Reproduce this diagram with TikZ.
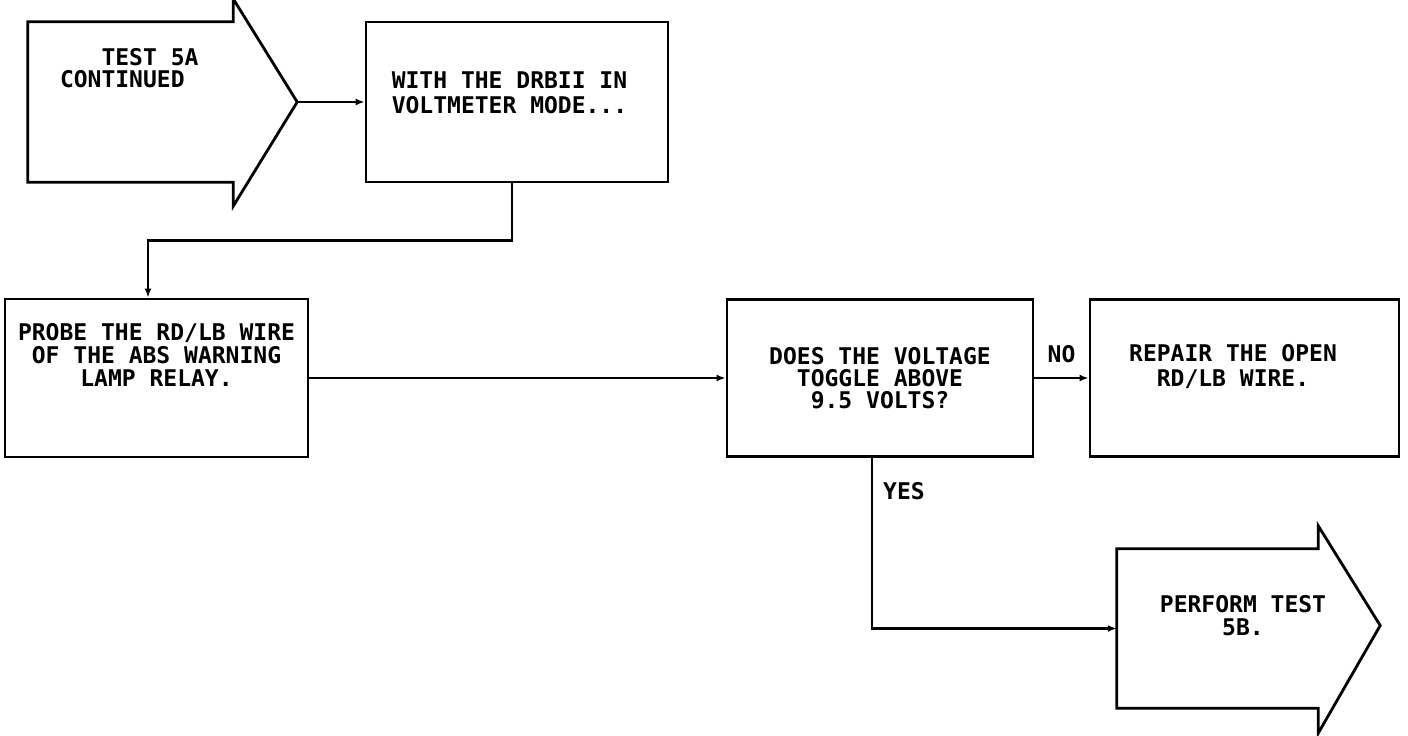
\documentclass[tikz,border=0pt]{standalone}
\usepackage{fontspec}
\newfontfamily\plotfont{DejaVu Sans Mono}
\usetikzlibrary{%
    arrows.meta,
    calc,
    positioning
}
\tikzset{headarrow/.style = {-{Latex[length=9pt,width=7pt]}}}
\tikzset{flow/.style = {line width=2.4pt,headarrow}}
\tikzset{outline/.style = {line width=2.8pt,line join=miter}}
\tikzset{stepbox/.style = {draw,outline,inner sep=0pt}}
\tikzset{arrowbody/.style = {inner sep=0pt}}
\tikzset{boxtext/.style = {inner sep=0pt,align=center,font=\plotfont\bfseries\fontsize{23}{23}\selectfont}}
\tikzset{tag/.style = {inner sep=0pt,font=\plotfont\bfseries\fontsize{23}{23}\selectfont}}

\begin{document}
\begin{tikzpicture}[x=1pt,y=-1pt]
    \useasboundingbox (0,0) rectangle (1408,736);

    % entry arrow
    \node[arrowbody,minimum width=205pt,minimum height=160pt] (test5a) at (130.5,102) {};
    \draw[outline] (test5a.north east) -- (test5a.north west) -- (test5a.south west)
        -- (test5a.south east) -- ++(0,24)
        -- ($(test5a.east)+(64,0)$) coordinate (test5a tip)
        -- ($(test5a.north east)+(0,-23)$) -- cycle;
    \node[boxtext,align=left,anchor=west,font=\plotfont\bfseries\fontsize{23}{22}\selectfont]
        (test5a text) at ($(test5a.west)+(32,-34)$) {\hspace{1.806em}TEST 5A\\CONTINUED};

    \node[stepbox,minimum width=302pt,minimum height=160pt] (drb) at (517,102) {};
    \node[boxtext,align=left,anchor=west,font=\plotfont\bfseries\fontsize{23}{25}\selectfont]
        (drb text) at ($(drb.west)+(27,-9.5)$) {WITH THE DRBII IN\\VOLTMETER MODE...};

    \node[stepbox,minimum width=303pt,minimum height=158pt] (probe) at (156.5,378) {};
    \node[boxtext] (probe text) at ($(probe.center)+(0,-23.5)$)
        {PROBE THE RD/LB WIRE\\OF THE ABS WARNING\\LAMP RELAY.};

    \node[stepbox,minimum width=306pt,minimum height=157pt] (toggle) at (880,378) {};
    \node[boxtext,font=\plotfont\bfseries\fontsize{23}{22}\selectfont] (toggle text) at (toggle.center)
        {DOES THE VOLTAGE\\TOGGLE ABOVE\\9.5 VOLTS?};

    \node[stepbox,minimum width=309pt,minimum height=157pt] (repair) at (1244.5,378) {};
    \node[boxtext,font=\plotfont\bfseries\fontsize{23}{25}\selectfont] (repair text)
        at ($(repair.center)+(-11.5,-11)$) {REPAIR THE OPEN\\RD/LB WIRE.};

    % exit arrow
    \node[arrowbody,minimum width=201pt,minimum height=159pt] (test5b) at (1217.5,628.5) {};
    \draw[outline] (test5b.north east) -- (test5b.north west) -- (test5b.south west)
        -- (test5b.south east) -- ++(0,25)
        -- ($(test5b.east)+(62,-3)$) coordinate (test5b tip)
        -- ($(test5b.north east)+(0,-23)$) -- cycle;
    \node[boxtext] (test5b text) at ($(test5b.center)+(25.5,-13)$) {PERFORM TEST\\5B.};

    % connectors
    \draw[flow] (test5a tip) -- (drb.west);
    \draw[flow] ([xshift=-5pt]drb.south) -- ++(0,57) -| ([xshift=-8.5pt]probe.north);
    \draw[flow] (probe.east) -- (toggle.west);
    \draw[flow] (toggle.east) -- node[tag,above=14pt] (no) {NO} (repair.west);
    \draw[flow] ([xshift=-8pt]toggle.south) |- node[tag,pos=0.098,anchor=west,xshift=10pt] (yes) {YES} (test5b.west);
\end{tikzpicture}
\end{document}
